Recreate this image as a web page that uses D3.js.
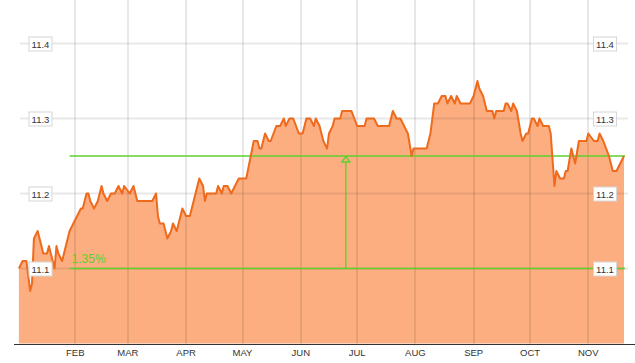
<!DOCTYPE html>
<html>
<head>
<meta charset="utf-8">
<script src="https://cdn.jsdelivr.net/npm/d3@7"></script>
<style>
  body { margin: 0; background: #fff; }
  svg { display: block; font-family: "Liberation Sans", Arial, sans-serif; }
</style>
</head>
<body>
<div id="chart"></div>
<script>
// daily closes
const dates = [
  "01-02","01-04","01-06","01-08","01-09","01-10","01-12","01-14","01-15","01-17",
  "01-18","01-20","01-21","01-22","01-23","01-25","01-27","01-28","01-29","01-31",
  "02-02","02-04","02-05","02-07","02-08","02-09","02-11","02-13","02-15","02-16",
  "02-18","02-20","02-22","02-24","02-26","02-27","03-02","03-04","03-05","03-06",
  "03-14","03-16","03-17","03-18","03-20","03-22","03-24","03-25","03-27","03-29",
  "03-30","04-01","04-03","04-05","04-06","04-08","04-10","04-11","04-12","04-17",
  "04-18","04-20","04-21","04-23","04-25","04-29","05-03","05-07","05-09","05-10",
  "05-11","05-13","05-15","05-16","05-19","05-21","05-23","05-24","05-26","05-28",
  "05-31","06-01","06-02","06-04","06-06","06-08","06-09","06-11","06-13","06-15",
  "06-16","06-18","06-19","06-22","06-23","06-28","07-01","07-05","07-06","07-10",
  "07-12","07-18","07-20","07-22","07-24","07-26","07-28","07-30","07-31","08-07",
  "08-09","08-11","08-13","08-15","08-17","08-18","08-20","08-22","08-23","08-25",
  "08-30","09-01","09-03","09-04","09-06","09-08","09-11","09-12","09-13","09-17",
  "09-18","09-19","09-21","09-22","09-24","09-26","09-27","09-29","09-30","10-02",
  "10-03","10-05","10-06","10-08","10-11","10-12","10-14","10-15","10-17","10-19",
  "10-20","10-21","10-23","10-24","10-25","10-27","10-29","10-31","11-01","11-04",
  "11-06","11-07","11-09","11-12","11-14","11-16","11-18","11-20"
];
const values = [
  11.10,11.11,11.11,11.07,11.08,11.14,11.15,11.13,11.12,11.12,
  11.13,11.11,11.10,11.13,11.12,11.11,11.13,11.14,11.15,11.16,
  11.17,11.18,11.18,11.20,11.20,11.19,11.18,11.19,11.21,11.20,
  11.19,11.20,11.20,11.21,11.20,11.21,11.20,11.21,11.20,11.19,
  11.19,11.20,11.17,11.16,11.16,11.14,11.15,11.16,11.15,11.17,
  11.18,11.17,11.17,11.19,11.20,11.22,11.21,11.19,11.20,11.20,
  11.21,11.20,11.21,11.21,11.20,11.22,11.22,11.27,11.27,11.26,
  11.26,11.28,11.27,11.27,11.29,11.29,11.30,11.29,11.30,11.30,
  11.28,11.28,11.28,11.30,11.30,11.29,11.30,11.29,11.27,11.26,
  11.28,11.29,11.30,11.30,11.31,11.31,11.29,11.29,11.30,11.30,
  11.29,11.29,11.31,11.30,11.30,11.29,11.28,11.25,11.26,11.26,
  11.28,11.32,11.32,11.33,11.33,11.32,11.33,11.32,11.33,11.32,
  11.32,11.33,11.35,11.34,11.33,11.31,11.31,11.30,11.31,11.31,
  11.32,11.32,11.31,11.32,11.31,11.28,11.27,11.28,11.28,11.30,
  11.30,11.29,11.30,11.29,11.29,11.28,11.21,11.23,11.22,11.22,
  11.23,11.23,11.26,11.25,11.24,11.27,11.27,11.27,11.28,11.27,
  11.27,11.28,11.27,11.25,11.23,11.23,11.24,11.25
];
const year = 2019;
const monthLabels = ["FEB","MAR","APR","MAY","JUN","JUL","AUG","SEP","OCT","NOV"];
const yTicks = [11.1, 11.2, 11.3, 11.4];

// range measurement drawn in green
const measureFrom = "01-29";
const measureArrow = "06-25";
const measureLow = 11.10;
const measureHigh = 11.25;
const measureLabel = "1.35%";

const W = 635, H = 363;
const parse = s => new Date(year, +s.slice(0, 2) - 1, +s.slice(3));
const data = dates.map((d, i) => ({ date: parse(d), value: values[i] }));

const svg = d3.select("#chart").append("svg")
  .attr("width", W)
  .attr("height", H);

const x = d3.scaleTime()
  .domain([new Date(year, 0, 1), new Date(year, 10, 20)])
  .range([17, 624]);

const y = d3.scaleLinear()
  .domain([11.0, 11.4])
  .range([343.5, 43.5]);

const monthDates = monthLabels.map((m, i) => new Date(year, i + 1, 1));

// area
svg.append("path")
  .datum(data)
  .attr("fill", "#fdae80")
  .attr("d", d3.area()
    .x(d => x(d.date))
    .y0(y(11.0))
    .y1(d => y(d.value)));

// grid on top of the fill, faint
const grid = svg.append("g")
  .attr("stroke", "rgba(0,0,0,0.09)")
  .attr("stroke-width", 2);

grid.selectAll("line.v")
  .data(monthDates)
  .join("line")
  .attr("x1", d => Math.round(x(d)))
  .attr("x2", d => Math.round(x(d)))
  .attr("y1", 0)
  .attr("y2", 344);

grid.selectAll("line.h")
  .data(yTicks)
  .join("line")
  .attr("x1", 20)
  .attr("x2", 628)
  .attr("y1", d => y(d))
  .attr("y2", d => y(d));

// green measurement
const green = "#5ecf2c";
const g = svg.append("g")
  .attr("stroke", green)
  .attr("stroke-width", 1.3)
  .attr("fill", "none");

[measureLow, measureHigh].forEach(v => {
  g.append("line")
    .attr("x1", x(parse(measureFrom)))
    .attr("x2", x.range()[1] + 1)
    .attr("y1", y(v))
    .attr("y2", y(v));
});

const ax = x(parse(measureArrow));
g.append("line")
  .attr("x1", ax).attr("x2", ax)
  .attr("y1", y(measureHigh) + 6)
  .attr("y2", y(measureLow));
g.append("path")
  .attr("d", `M${ax},${y(measureHigh) + 0.5}L${ax - 4},${y(measureHigh) + 6}L${ax + 4},${y(measureHigh) + 6}Z`);

svg.append("text")
  .attr("x", x(parse(measureFrom)) + 2)
  .attr("y", y(measureLow) - 6)
  .attr("fill", green)
  .style("font-size", "12px")
  .text(measureLabel);

// price line
svg.append("path")
  .datum(data)
  .attr("fill", "none")
  .attr("stroke", "#ee6a1c")
  .attr("stroke-width", 2)
  .attr("stroke-linejoin", "round")
  .attr("d", d3.line()
    .x(d => x(d.date))
    .y(d => y(d.value)));

// bottom axis
svg.append("line")
  .attr("x1", 14).attr("x2", W)
  .attr("y1", 344.5).attr("y2", 344.5)
  .attr("stroke", "#333");

svg.selectAll("text.month")
  .data(monthDates)
  .join("text")
  .attr("class", "month")
  .attr("x", d => x(d))
  .attr("y", 356)
  .attr("text-anchor", "middle")
  .attr("fill", "#333")
  .style("font-size", "9.5px")
  .text((d, i) => monthLabels[i]);

// value labels in boxes, both sides
[40.5, 605].forEach(cx => {
  const lab = svg.append("g").selectAll("g")
    .data(yTicks)
    .join("g")
    .attr("transform", d => `translate(${cx},${y(d)})`);
  lab.append("rect")
    .attr("x", -11.5).attr("y", -6.5)
    .attr("width", 23).attr("height", 14)
    .attr("fill", "#fff")
    .attr("stroke", "#d6d6d6");
  lab.append("text")
    .attr("y", 4)
    .attr("text-anchor", "middle")
    .attr("fill", "#333")
    .style("font-size", "9.5px")
    .text(d => d.toFixed(1));
});
</script>
</body>
</html>
